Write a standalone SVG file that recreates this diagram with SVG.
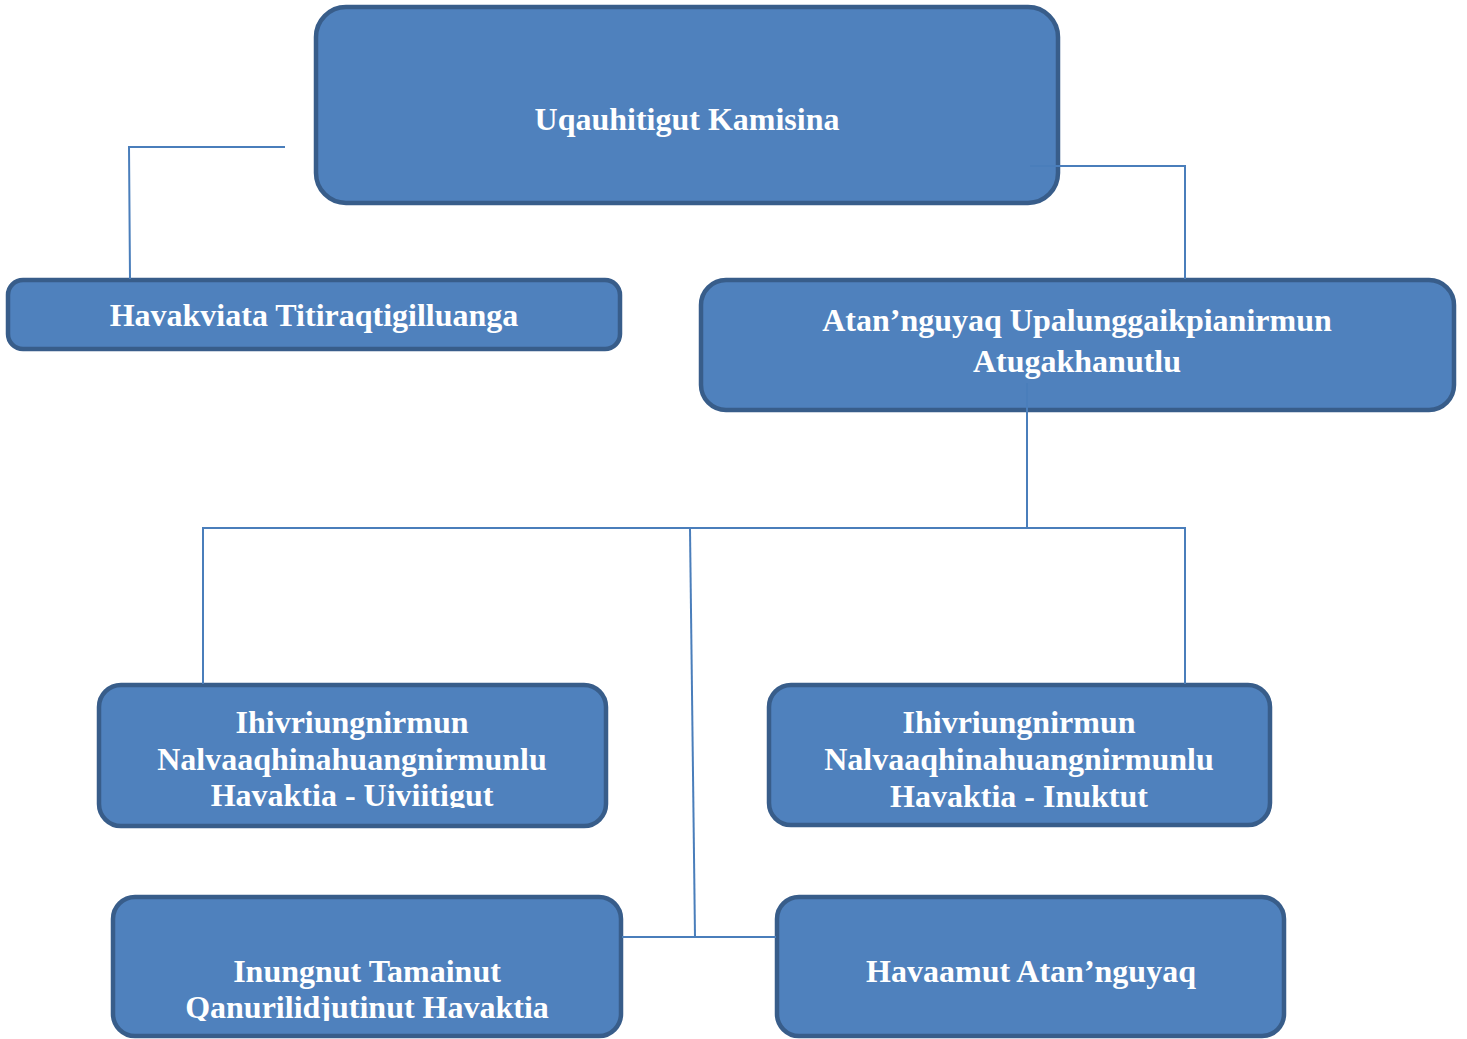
<svg xmlns="http://www.w3.org/2000/svg" width="1467" height="1039" viewBox="0 0 1467 1039">
<style>
.box{fill:#4F81BD;stroke:#385D8A;stroke-width:4.5}
.t{font-family:"Liberation Serif","Times New Roman",serif;font-weight:bold;font-size:32px;fill:#FFFFFF;text-anchor:middle}
.c{fill:none;stroke:#4A7EBB;stroke-width:2}
</style>
<defs>
<clipPath id="clipA"><rect x="99" y="685" width="507" height="123"/></clipPath>
<clipPath id="clipB"><rect x="113" y="897" width="508" height="124"/></clipPath>
</defs>
<rect width="1467" height="1039" fill="#FFFFFF"/>
<g id="node-kamisina">
<rect class="box" x="316" y="7" width="742" height="196" rx="30"/>
<text class="t" x="687" y="130">Uqauhitigut Kamisina</text>
</g>
<g id="node-havakviata">
<rect class="box" x="8" y="280" width="612" height="69" rx="15"/>
<text class="t" x="314" y="326">Havakviata Titiraqtigilluanga</text>
</g>
<g id="node-atannguyaq-upalung">
<rect class="box" x="701" y="280" width="753" height="130" rx="25"/>
<text class="t" x="1077" y="331">Atan’nguyaq Upalunggaikpianirmun</text>
<text class="t" x="1077" y="372">Atugakhanutlu</text>
</g>
<g id="node-ihivriung-uiviitigut">
<rect class="box" x="99" y="685" width="507" height="141" rx="22"/>
<g clip-path="url(#clipA)">
<text class="t" x="352" y="733">Ihivriungnirmun</text>
<text class="t" x="352" y="770">Nalvaaqhinahuangnirmunlu</text>
<text class="t" x="352" y="806">Havaktia - Uiviitigut</text>
</g>
</g>
<g id="node-ihivriung-inuktut">
<rect class="box" x="769" y="685" width="501" height="140" rx="22"/>
<text class="t" x="1019" y="733">Ihivriungnirmun</text>
<text class="t" x="1019" y="770">Nalvaaqhinahuangnirmunlu</text>
<text class="t" x="1019" y="807">Havaktia - Inuktut</text>
</g>
<g id="node-inungnut">
<rect class="box" x="113" y="897" width="508" height="139" rx="22"/>
<g clip-path="url(#clipB)">
<text class="t" x="367" y="982">Inungnut Tamainut</text>
<text class="t" x="367" y="1018">Qanurilidjutinut Havaktia</text>
</g>
</g>
<g id="node-havaamut">
<rect class="box" x="777" y="897" width="507" height="139" rx="22"/>
<text class="t" x="1031" y="982">Havaamut Atan’nguyaq</text>
</g>
<g id="connectors">
<polyline class="c" points="285,147 129,147 130,279"/>
<polyline class="c" points="1030,166 1185,166 1185,279"/>
<line class="c" x1="1027" y1="383" x2="1027" y2="528"/>
<line class="c" x1="202" y1="528" x2="1186" y2="528"/>
<line class="c" x1="203" y1="528" x2="203" y2="684"/>
<line class="c" x1="1185" y1="528" x2="1185" y2="684"/>
<line class="c" x1="690" y1="529" x2="695" y2="937"/>
<line class="c" x1="622" y1="937" x2="776" y2="937"/>
</g>
</svg>
